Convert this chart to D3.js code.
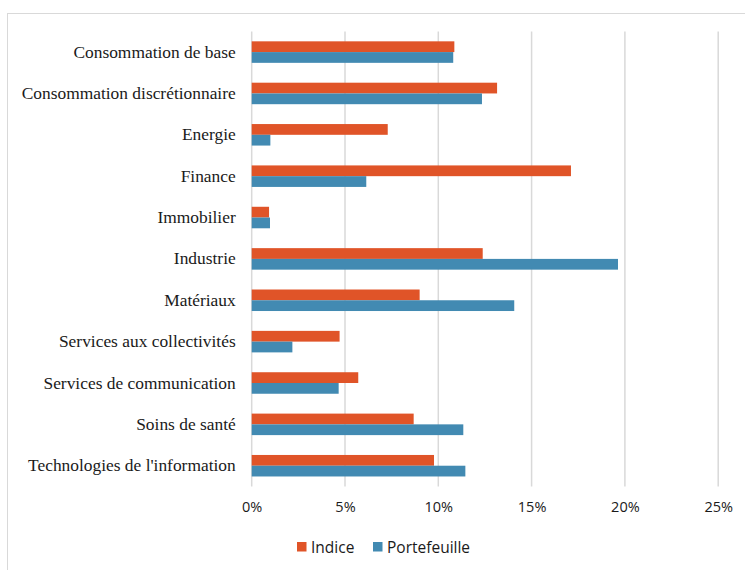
<!DOCTYPE html>
<html><head><meta charset="utf-8">
<script src="https://cdn.jsdelivr.net/npm/d3@7"></script>
<style>body{margin:0;background:#fff}svg{display:block}</style>
</head><body>
<svg id="chart" width="745" height="570"></svg>
<script>
const categories = ["Consommation de base","Consommation discrétionnaire","Energie","Finance","Immobilier","Industrie","Matériaux","Services aux collectivités","Services de communication","Soins de santé","Technologies de l'information"];
const indice = [10.86, 13.15, 7.29, 17.11, 0.93, 12.38, 9.0, 4.71, 5.71, 8.68, 9.77];
const portefeuille = [10.80, 12.34, 1.0, 6.14, 0.98, 19.63, 14.07, 2.18, 4.66, 11.34, 11.45];
const seriesNames = ["Indice","Portefeuille"];
const seriesColors = ["#E05428","#428AB2"];
const tickValues = [0,5,10,15,20,25];

const svg = d3.select("#chart");
// outer frame
svg.append("rect").attr("x",7.5).attr("y",13.5).attr("width",760).attr("height",580)
  .attr("fill","none").attr("stroke","#d9d9d9").attr("stroke-width",1);

const mLeft = 251.7, mRight = 718.2, mTop = 31.4, mBottom = 486.4;
const x = d3.scaleLinear().domain([0,25]).range([mLeft,mRight]);
const y = d3.scaleBand().domain(categories).range([mTop,mBottom]).paddingInner(0.48).paddingOuter(0.24);
const ys = d3.scaleBand().domain(seriesNames).range([0,y.bandwidth()]);

// gridlines
svg.append("g").selectAll("line").data(tickValues).join("line")
  .attr("x1",d=>x(d)).attr("x2",d=>x(d)).attr("y1",mTop).attr("y2",mBottom)
  .attr("stroke","#d9d9d9").attr("stroke-width",1.5);

// x axis labels
const xAxis = d3.axisBottom(x).tickValues(tickValues).tickFormat(d=>d+"%").tickSize(0).tickPadding(0);
const gx = svg.append("g").attr("transform",`translate(0,${mBottom+15})`).call(xAxis);
gx.select(".domain").remove();
gx.selectAll("text").attr("font-family","'Open Sans', sans-serif").attr("font-size",14.5).attr("fill","#1a1a1a");

// y axis labels
const yAxis = d3.axisLeft(y).tickSize(0).tickPadding(0);
const gy = svg.append("g").attr("transform",`translate(${mLeft-16},0)`).call(yAxis);
gy.select(".domain").remove();
gy.selectAll("text").attr("font-family","'Liberation Serif', serif").attr("font-size",17.4).attr("fill","#1a1a1a");

// bars
const data = [indice, portefeuille];
const g = svg.append("g");
seriesNames.forEach((s,si)=>{
  g.append("g").selectAll("rect").data(categories).join("rect")
    .attr("x",x(0))
    .attr("y",(c)=>y(c)+ys(s))
    .attr("width",(c,i)=>x(data[si][i])-x(0))
    .attr("height",ys.bandwidth())
    .attr("fill",seriesColors[si]);
});

// legend
const legend = svg.append("g").attr("transform","translate(297,542)");
const items = [{n:"Indice",c:seriesColors[0],dx:0},{n:"Portefeuille",c:seriesColors[1],dx:76}];
items.forEach(it=>{
  legend.append("rect").attr("x",it.dx).attr("y",0).attr("width",9.5).attr("height",9.5).attr("fill",it.c);
  legend.append("text").attr("x",it.dx+14).attr("y",10.5).text(it.n)
    .attr("font-family","'Open Sans', sans-serif").attr("font-size",15.5).attr("fill","#1a1a1a");
});
</script>
</body></html>
